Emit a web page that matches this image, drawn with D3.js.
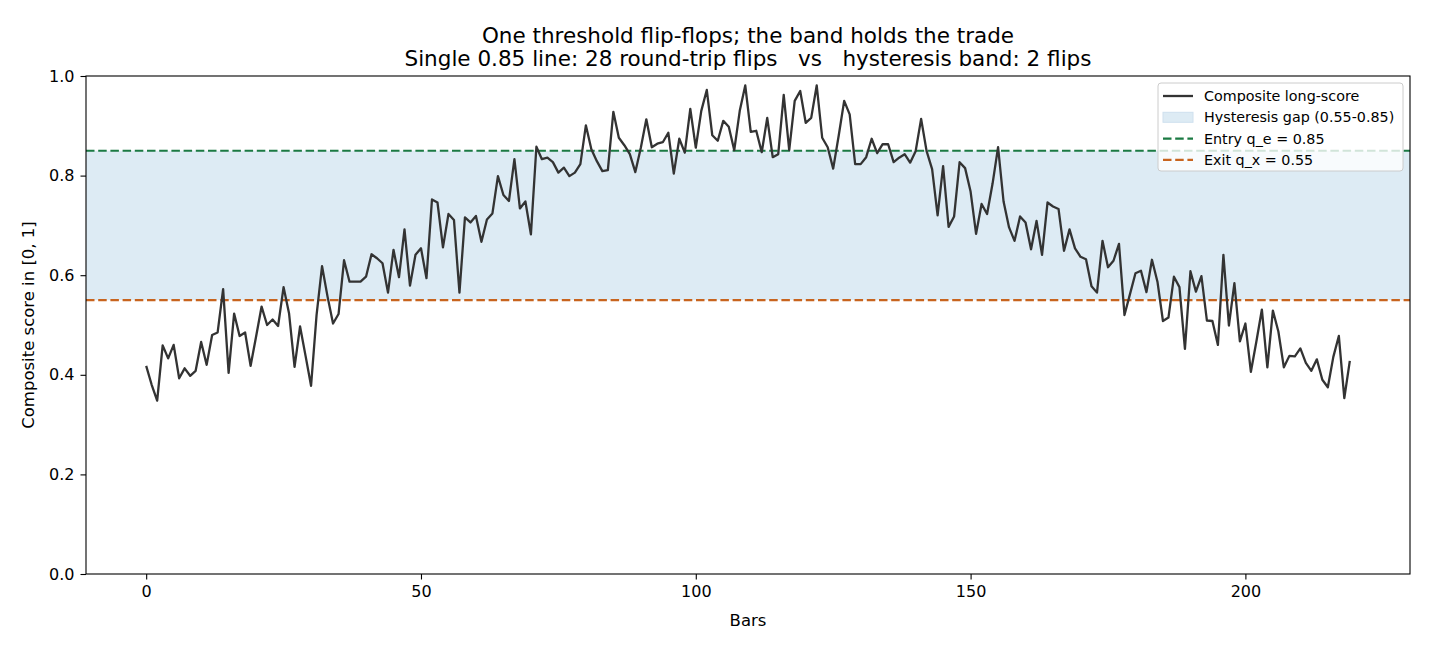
<!DOCTYPE html>
<html lang="en">
<head>
<meta charset="UTF-8">
<title>Hysteresis band vs single threshold</title>
<script src="https://cdnjs.cloudflare.com/ajax/libs/d3/7.8.5/d3.min.js"></script>
<style>
    body { margin: 0; background: #fff; }
    svg { display: block; font-family: "DejaVu Sans", sans-serif; }
    .title { white-space: pre; }
</style>
</head>
<body>
<div id="chart"></div>
<script>
// composite long-score, one value per bar (bars 0..219)
const scores = [
    0.418, 0.380, 0.348, 0.459, 0.433, 0.460, 0.393, 0.413, 0.398, 0.408,
    0.466, 0.420, 0.480, 0.485, 0.572, 0.404, 0.523, 0.478, 0.485, 0.418,
    0.477, 0.537, 0.500, 0.511, 0.498, 0.576, 0.523, 0.416, 0.497, 0.438,
    0.378, 0.520, 0.618, 0.557, 0.503, 0.522, 0.630, 0.587, 0.587, 0.587,
    0.597, 0.642, 0.634, 0.624, 0.565, 0.651, 0.596, 0.692, 0.579, 0.641,
    0.654, 0.594, 0.752, 0.746, 0.656, 0.723, 0.711, 0.565, 0.716, 0.706,
    0.719, 0.667, 0.712, 0.724, 0.799, 0.761, 0.749, 0.833, 0.734, 0.748,
    0.682, 0.858, 0.833, 0.836, 0.827, 0.806, 0.816, 0.799, 0.806, 0.823,
    0.901, 0.853, 0.829, 0.809, 0.811, 0.928, 0.876, 0.861, 0.843, 0.807,
    0.856, 0.913, 0.857, 0.864, 0.867, 0.886, 0.804, 0.874, 0.846, 0.934,
    0.856, 0.930, 0.972, 0.881, 0.870, 0.910, 0.898, 0.851, 0.930, 0.981,
    0.888, 0.890, 0.847, 0.916, 0.837, 0.843, 0.962, 0.851, 0.950, 0.970,
    0.906, 0.916, 0.981, 0.876, 0.857, 0.814, 0.880, 0.950, 0.923, 0.823,
    0.823, 0.837, 0.874, 0.845, 0.863, 0.863, 0.827, 0.836, 0.843, 0.826,
    0.849, 0.914, 0.849, 0.813, 0.720, 0.819, 0.697, 0.718, 0.827, 0.815,
    0.768, 0.683, 0.743, 0.723, 0.784, 0.857, 0.748, 0.696, 0.669, 0.718,
    0.706, 0.652, 0.709, 0.641, 0.746, 0.738, 0.733, 0.649, 0.692, 0.654,
    0.637, 0.632, 0.578, 0.565, 0.669, 0.616, 0.629, 0.663, 0.520, 0.562,
    0.604, 0.609, 0.566, 0.631, 0.587, 0.508, 0.515, 0.597, 0.576, 0.452,
    0.608, 0.567, 0.598, 0.509, 0.508, 0.460, 0.641, 0.499, 0.584, 0.467,
    0.503, 0.406, 0.467, 0.531, 0.415, 0.529, 0.487, 0.415, 0.438, 0.437,
    0.453, 0.424, 0.408, 0.431, 0.390, 0.375, 0.436, 0.478, 0.353, 0.428
];

const entryQ = 0.85;
const exitQ = 0.55;
const xTicks = [0, 50, 100, 150, 200];
const yTicks = [0, 0.2, 0.4, 0.6, 0.8, 1.0];
const titleLines = [
    "One threshold flip-flops; the band holds the trade",
    "Single 0.85 line: 28 round-trip flips   vs   hysteresis band: 2 flips"
];
const legendLabels = [
    "Composite long-score",
    "Hysteresis gap (0.55-0.85)",
    "Entry q_e = 0.85",
    "Exit q_x = 0.55"
];

const width = 1430, height = 650;
const margin = { top: 76, right: 20, bottom: 76, left: 86 };
const innerW = width - margin.left - margin.right;
const innerH = height - margin.top - margin.bottom;

const lineColor = "#333333";
const bandColor = "#ddebf4";
const entryColor = "#1b7a43";
const exitColor = "#c8641e";
const dash = "8.5,3.7";

const svg = d3.select("#chart").append("svg")
    .attr("width", width)
    .attr("height", height);

svg.append("rect").attr("width", width).attr("height", height).attr("fill", "#fff");

const g = svg.append("g").attr("transform", `translate(${margin.left},${margin.top})`);

// matplotlib-style 5% padding on x
const n = scores.length;
const pad = (n - 1) * 0.05;
const x = d3.scaleLinear().domain([-pad, n - 1 + pad]).range([0, innerW]);
const y = d3.scaleLinear().domain([0, 1]).range([innerH, 0]);

// band between the two thresholds
g.append("rect")
    .attr("x", 0)
    .attr("width", innerW)
    .attr("y", y(entryQ))
    .attr("height", y(exitQ) - y(entryQ))
    .attr("fill", bandColor);

// threshold lines
g.append("line")
    .attr("x1", 0).attr("x2", innerW)
    .attr("y1", y(entryQ)).attr("y2", y(entryQ))
    .attr("stroke", entryColor).attr("stroke-width", 2.1)
    .attr("stroke-dasharray", dash);

g.append("line")
    .attr("x1", 0).attr("x2", innerW)
    .attr("y1", y(exitQ)).attr("y2", y(exitQ))
    .attr("stroke", exitColor).attr("stroke-width", 2.1)
    .attr("stroke-dasharray", dash);

// score line
const line = d3.line()
    .x((d, i) => x(i))
    .y(d => y(d));

g.append("path")
    .datum(scores)
    .attr("fill", "none")
    .attr("stroke", lineColor)
    .attr("stroke-width", 2.3)
    .attr("stroke-linejoin", "round")
    .attr("d", line);

// axes
const xAxis = g.append("g")
    .attr("transform", `translate(0,${innerH})`)
    .call(d3.axisBottom(x).tickValues(xTicks).tickFormat(d3.format("d")).tickSize(5.5).tickPadding(6));

const yAxis = g.append("g")
    .call(d3.axisLeft(y).tickValues(yTicks).tickFormat(d3.format(".1f")).tickSize(5.5).tickPadding(6));

[xAxis, yAxis].forEach(ax => {
    ax.select(".domain").remove();
    ax.selectAll("text").attr("font-size", 16).attr("fill", "#000").attr("font-family", "DejaVu Sans");
    ax.selectAll("line").attr("stroke", "#000").attr("stroke-width", 1.1);
});

// frame
g.append("rect")
    .attr("width", innerW).attr("height", innerH)
    .attr("fill", "none").attr("stroke", "#000").attr("stroke-width", 1.1);

// axis labels
svg.append("text")
    .attr("x", margin.left + innerW / 2)
    .attr("y", 626)
    .attr("text-anchor", "middle")
    .attr("font-size", 16.5)
    .text("Bars");

svg.append("text")
    .attr("transform", `translate(34,${margin.top + innerH / 2}) rotate(-90)`)
    .attr("text-anchor", "middle")
    .attr("font-size", 16.5)
    .text("Composite score in [0, 1]");

// title
svg.selectAll(".title")
    .data(titleLines)
    .enter().append("text")
    .attr("class", "title")
    .attr("x", margin.left + innerW / 2)
    .attr("y", (d, i) => 42.5 + i * 23.5)
    .attr("text-anchor", "middle")
    .attr("font-size", 21.5)
    .text(d => d);

// legend
const legend = svg.append("g").attr("transform", "translate(1158,83)");

legend.append("rect")
    .attr("width", 245).attr("height", 88)
    .attr("rx", 3)
    .attr("fill", "#fff").attr("fill-opacity", 0.8)
    .attr("stroke", "#cccccc").attr("stroke-width", 1);

const rowY = i => 13 + i * 21.3;

legend.append("line")
    .attr("x1", 5).attr("x2", 35).attr("y1", rowY(0)).attr("y2", rowY(0))
    .attr("stroke", lineColor).attr("stroke-width", 2.3);

legend.append("rect")
    .attr("x", 5).attr("y", rowY(1) - 5).attr("width", 30).attr("height", 10)
    .attr("fill", bandColor).attr("stroke", "#cfe0ee").attr("stroke-width", 1);

legend.append("line")
    .attr("x1", 5).attr("x2", 35).attr("y1", rowY(2)).attr("y2", rowY(2))
    .attr("stroke", entryColor).attr("stroke-width", 2.1)
    .attr("stroke-dasharray", dash);

legend.append("line")
    .attr("x1", 5).attr("x2", 35).attr("y1", rowY(3)).attr("y2", rowY(3))
    .attr("stroke", exitColor).attr("stroke-width", 2.1)
    .attr("stroke-dasharray", dash);

legend.selectAll(".lab")
    .data(legendLabels)
    .enter().append("text")
    .attr("class", "lab")
    .attr("x", 46)
    .attr("y", (d, i) => rowY(i) + 5)
    .attr("font-size", 14.3)
    .text(d => d);
</script>
</body>
</html>
